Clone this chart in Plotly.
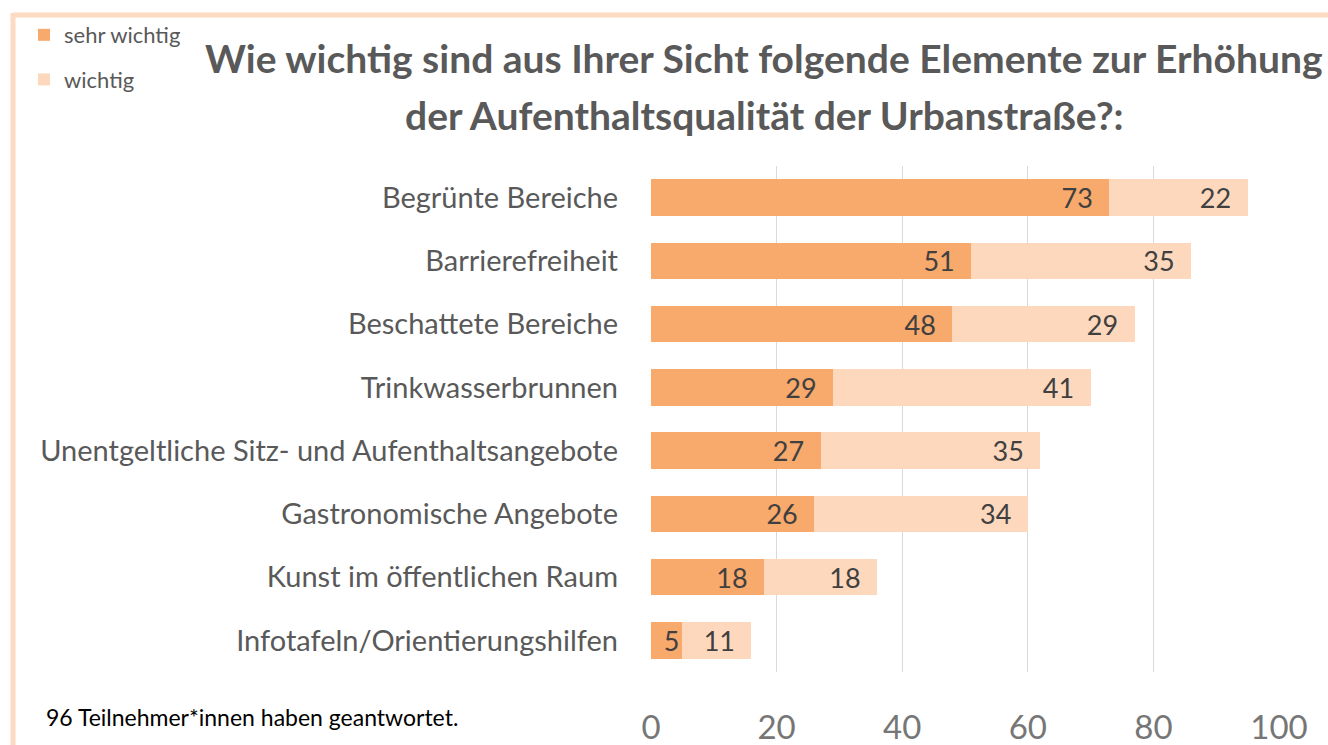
import plotly.graph_objects as go

categories = [
    "Begrünte Bereiche",
    "Barrierefreiheit",
    "Beschattete Bereiche",
    "Trinkwasserbrunnen",
    "Unentgeltliche Sitz- und Aufenthaltsangebote",
    "Gastronomische Angebote",
    "Kunst im öffentlichen Raum",
    "Infotafeln/Orientierungshilfen",
]
sehr_wichtig = [73, 51, 48, 29, 27, 26, 18, 5]
wichtig = [22, 35, 29, 41, 35, 34, 18, 11]
tick_vals = [0, 20, 40, 60, 80, 100]

C_DARK = "#F8A96C"
C_LIGHT = "#FDD8BD"
C_FRAME = "#FDDAC2"
FONT = "Lato"

W, H = 1328, 745
L, R, T, B = 651, 49, 166, 73

fig = go.Figure()
fig.add_trace(go.Bar(
    y=categories, x=sehr_wichtig, orientation="h", name="sehr wichtig",
    marker=dict(color=C_DARK, line=dict(width=0)),
    text=[f"{v}\u2002" if v > 9 else f"{v}" for v in sehr_wichtig],
    textposition="inside", insidetextanchor="end", constraintext="none",
    textfont=dict(family=FONT, size=27, color="#404040"),
    legendgroup="a", width=0.58,
))
fig.add_trace(go.Bar(
    y=categories, x=wichtig, orientation="h", name="wichtig",
    marker=dict(color=C_LIGHT, line=dict(width=0)),
    text=[f"{v}\u2002" for v in wichtig],
    textposition="inside", insidetextanchor="end", constraintext="none",
    textfont=dict(family=FONT, size=27, color="#404040"),
    legendgroup="b", width=0.58,
))

pw = W - L - R
ph = H - T - B
def px_x(x):
    return (x - L) / pw
def px_y(y):
    return 1 - (y - T) / ph

shapes = [
    dict(type="line", xref="paper", yref="paper", x0=px_x(13), x1=px_x(1335), y0=px_y(15), y1=px_y(15),
         line=dict(color=C_FRAME, width=5)),
    dict(type="line", xref="paper", yref="paper", x0=px_x(13), x1=px_x(13), y0=px_y(13), y1=px_y(760),
         line=dict(color=C_FRAME, width=5)),
]

annotations = [
    dict(text="<b>Wie wichtig sind aus Ihrer Sicht folgende Elemente zur Erhöhung</b>",
         xref="paper", yref="paper", x=px_x(764), y=px_y(58), xanchor="center", yanchor="middle",
         showarrow=False, font=dict(family=FONT, size=39, color="#595959")),
    dict(text="<b>der Aufenthaltsqualität der Urbanstraße?:</b>",
         xref="paper", yref="paper", x=px_x(764), y=px_y(115), xanchor="center", yanchor="middle",
         showarrow=False, font=dict(family=FONT, size=39, color="#595959")),
    dict(text="96 Teilnehmer*innen haben geantwortet.",
         xref="paper", yref="paper", x=px_x(44), y=px_y(717), xanchor="left", yanchor="middle",
         showarrow=False, font=dict(family=FONT, size=23, color="#000000")),
]

fig.update_layout(
    width=W, height=H,
    margin=dict(l=L, r=R, t=T, b=B, pad=0, autoexpand=False),
    barmode="stack",
    plot_bgcolor="white", paper_bgcolor="white",
    font=dict(family=FONT, color="#595959"),
    showlegend=True,
    legend=dict(xref="container", yref="container", x=24 / W, y=1 - 14 / H,
                xanchor="left", yanchor="top", traceorder="grouped",
                tracegroupgap=13, font=dict(family=FONT, size=22, color="#595959"),
                itemwidth=30, bgcolor="rgba(0,0,0,0)"),
    xaxis=dict(range=[0, 100], tickvals=tick_vals, showgrid=True, gridcolor="#D9D9D9", gridwidth=1,
               zeroline=False, showline=False, ticks="", ticklabelstandoff=33, automargin=False,
               tickfont=dict(family=FONT, size=33, color="#767676")),
    yaxis=dict(categoryorder="array", categoryarray=categories, autorange="reversed", automargin=False,
               showgrid=False, zeroline=False, showline=False, ticks="", ticklabelstandoff=32,
               tickfont=dict(family=FONT, size=29, color="#595959")),
    shapes=shapes,
    annotations=annotations,
    uniformtext=dict(mode=False),
)

fig.write_html("out.html", config={"displayModeBar": False},
               post_script="document.body.style.margin='0';document.body.style.overflow='hidden';")
